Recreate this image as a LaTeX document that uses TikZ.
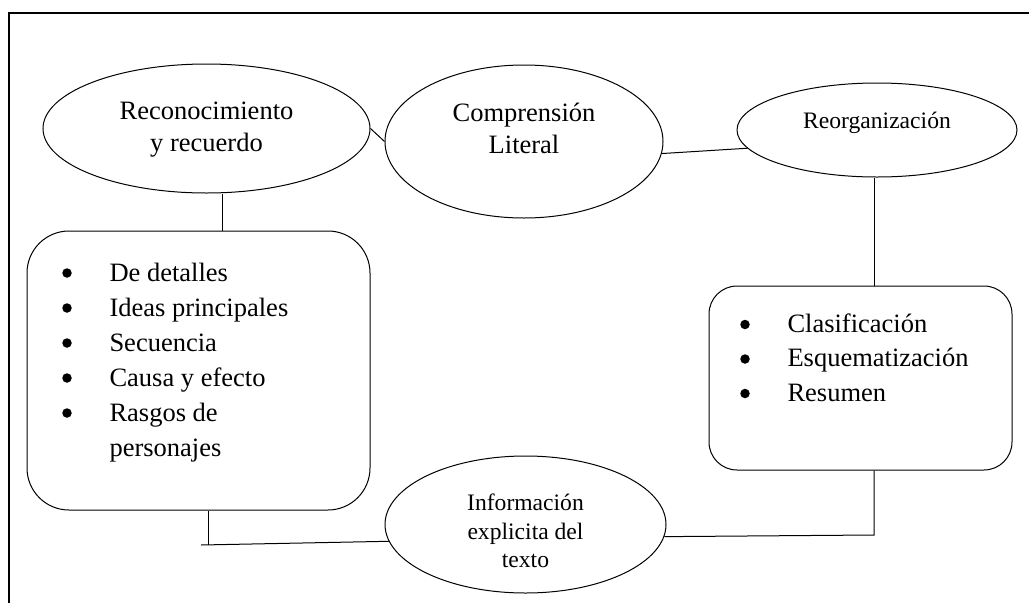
\documentclass[tikz,border=0pt]{standalone}
\usepackage{fontspec}
\setmainfont{Liberation Serif}
\usetikzlibrary{shapes.geometric}

\begin{document}
\begin{tikzpicture}[x=1pt,y=-1pt,line width=1pt,
  oval/.style={draw,ellipse,inner sep=0pt},
  ovaltext/.style={align=center,inner sep=0pt},
  big/.style={font=\fontsize{26.5}{32}\selectfont},
  small/.style={font=\fontsize{23.6}{28.5}\selectfont},
  card/.style={draw,rectangle,rounded corners=#1,inner sep=0pt},
  item/.style={anchor=base west,inner sep=0pt,big},
  bul/.style={circle,fill,inner sep=0pt,minimum size=9.5pt}]
      \useasboundingbox (0,0) rectangle (1029,603);
      \draw [line width=2.5pt] (1029,13) -- (9,13) -- (9,603);
      \node [oval,minimum width=327pt,minimum height=129pt,
        label={[ovaltext,big,name=t1,yshift=-1pt]center:Reconocimiento\\y recuerdo}] (e1) at (206.5,128.5) {};
      \node [oval,minimum width=278pt,minimum height=153pt,
        label={[ovaltext,big,name=t2,yshift=13pt]center:Comprensión\\Literal}] (e2) at (524,141.5) {};
      \node [oval,minimum width=280pt,minimum height=94pt,
        label={[ovaltext,small,name=t3,yshift=7.5pt]center:Reorganización}] (e3) at (877,130) {};
      \node [oval,minimum width=281pt,minimum height=137pt,
        label={[ovaltext,small,name=t4,yshift=-6.5pt]center:Información\\explicita del\\texto}] (e4) at (525.5,524.5) {};
      \node [card=42pt,minimum width=343pt,minimum height=279pt] (lbox) at (198.5,370.5) {};
      \node [card=28pt,minimum width=303pt,minimum height=184pt] (rbox) at (860.5,378) {};
      \foreach \t [count=\i] in {De detalles,Ideas principales,Secuencia,Causa y efecto,Rasgos de} {
        \node [bul] (lb\i) at (67,238+35*\i) {};
        \node [item] (li\i) at (109,246+35*\i) {\t};
      }
      \node [item] (li6) at (109,456) {personajes};
      \foreach \t [count=\i] in {Clasificación,Esquematización,Resumen} {
        \node [bul] (rb\i) at (745,290+34.5*\i) {};
        \node [item] (ri\i) at (787,297.5+34.5*\i) {\t};
      }
      \coordinate (lt) at (201,545);
      \coordinate (rt) at (874,535);
      \draw (e1.east) -- (e2.west);
      \draw (e2.-5) -- (e3.188);
      \draw ([xshift=16pt]e1.south) -- ([xshift=16pt]e1.south |- lbox.north);
      \draw (e3.south -| rt) -- (rt |- rbox.north);
      \draw ([xshift=9.5pt]lbox.south) -- ([xshift=9.5pt]lbox.south |- lt);
      \draw (lt) -- (e4.187);
      \draw (e4.-5) -- (rt) -- (rt |- rbox.south);
\end{tikzpicture}
\end{document}
